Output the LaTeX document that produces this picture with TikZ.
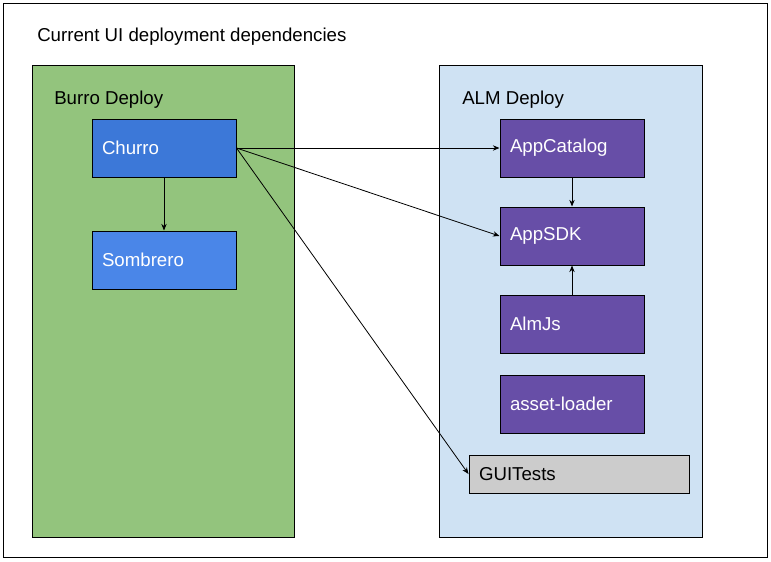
\documentclass[tikz,border=0pt]{standalone}
\usepackage{fontspec}
\setmainfont{Liberation Sans}
\usetikzlibrary{positioning,arrows.meta}

\definecolor{burrogreen}{HTML}{93C47D}
\definecolor{almblue}{HTML}{CFE2F3}
\definecolor{churroblue}{HTML}{3C78D8}
\definecolor{sombreroblue}{HTML}{4A86E8}
\definecolor{almpurple}{HTML}{674EA7}
\definecolor{testgray}{HTML}{CCCCCC}

\begin{document}
\begin{tikzpicture}[
    x=0.75pt, y=-0.75pt,
    font=\fontsize{14pt}{17pt}\selectfont,
    group/.style={draw, line width=0.75pt, rectangle, minimum width=197pt, minimum height=354pt},
    box/.style={draw, line width=0.75pt, rectangle, minimum width=108pt, minimum height=43.5pt, inner xsep=7.5pt, text width=93pt, align=left, text=white},
    burro/.style={box, fill=churroblue},
    alm/.style={box, fill=almpurple},
    label/.style={anchor=west, inner sep=0pt},
    dep/.style={-{Stealth[length=5pt,width=4pt]}, line width=0.6pt}
]
\useasboundingbox (0,0) rectangle (771,561);
\draw[line width=0.75pt] (3,3) rectangle (767,557);

% Title
\node[label] (title) at (37,37) {Current UI deployment dependencies};

% Groups
\node[group, fill=burrogreen] (burrogrp) at (163.5,301) {};
\node[group, fill=almblue] (almgrp) at (571,301) {};
\node[label] (burrolbl) at (54,100) {Burro Deploy};
\node[label] (almlbl) at (462,100) {ALM Deploy};

% Burro Deploy
\node[burro] (churro) at (164,148) {Churro};
\node[burro, fill=sombreroblue, below=39.75pt of churro] (sombrero) {Sombrero};

% ALM Deploy
\node[alm] (appcatalog) at (572,148) {AppCatalog};
\node[alm, below=21.75pt of appcatalog] (appsdk) {AppSDK};
\node[alm, below=21.75pt of appsdk] (almjs) {AlmJs};
\node[alm, below=15.75pt of almjs] (assetloader) {asset-loader};
\node[box, fill=testgray, text=black, minimum width=165pt, text width=150pt, minimum height=28.5pt] (guitests) at (579,474) {GUITests};

% Arrows
\draw[dep] (churro) -- (sombrero);
\draw[dep] (churro.east) -- (appcatalog.west);
\draw[dep] (churro.east) -- (appsdk.west);
\draw[dep] (churro.east) -- (guitests.west);
\draw[dep] (appcatalog) -- (appsdk);
\draw[dep] (almjs) -- (appsdk);
\end{tikzpicture}
\end{document}
